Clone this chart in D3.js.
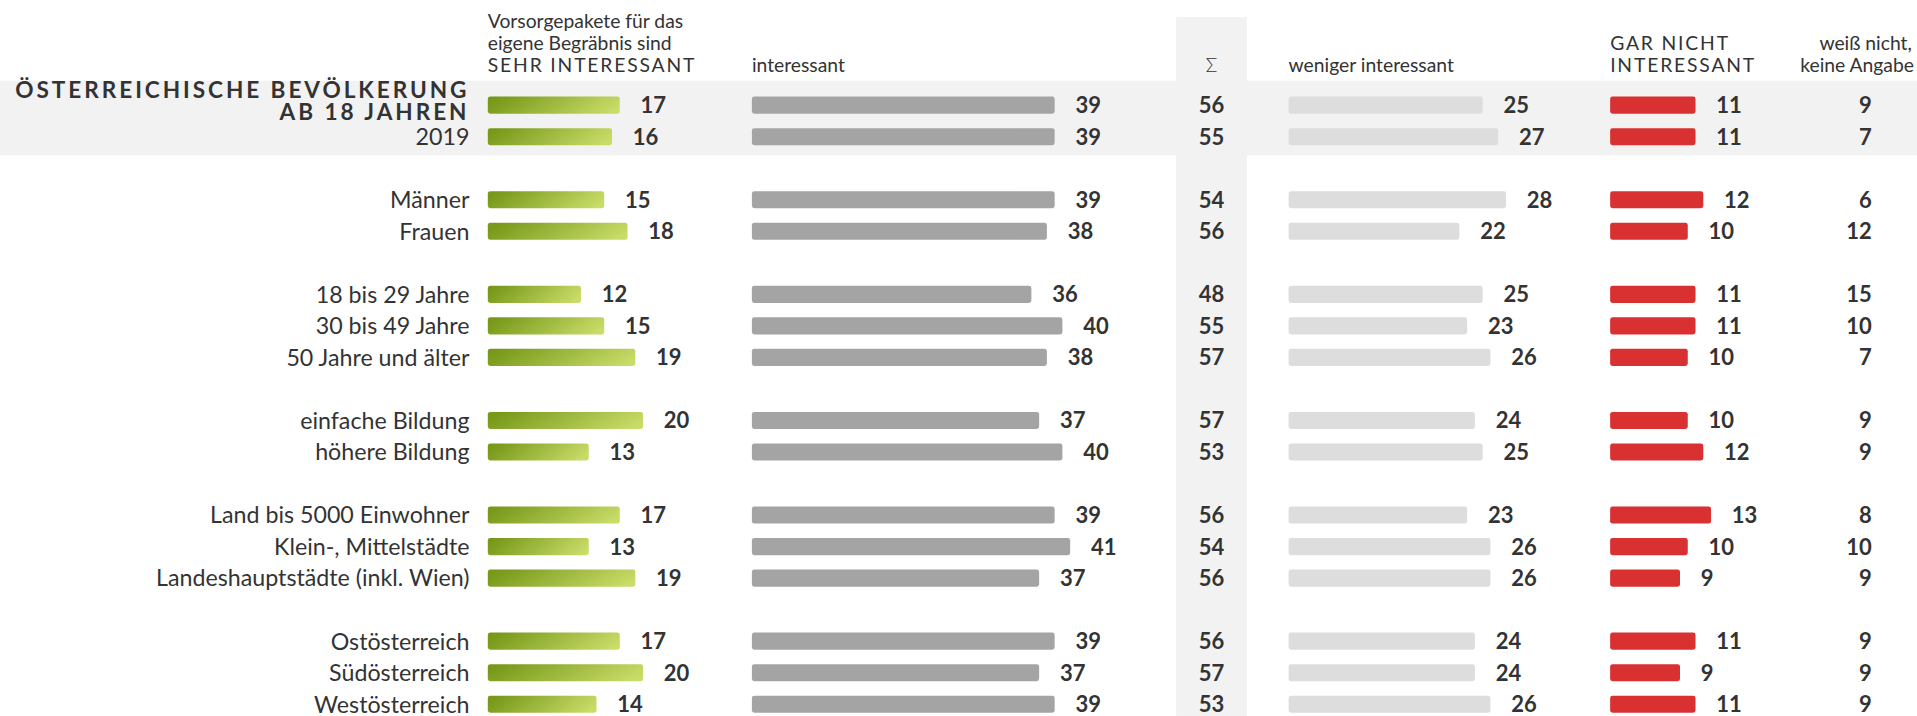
<!DOCTYPE html>
<html>
<head>
<meta charset="utf-8">
<script src="https://cdn.jsdelivr.net/npm/d3@7"></script>
<style>
  body { margin: 0; background: #fff; }
  svg { display: block; font-family: Lato, "Open Sans", sans-serif; }
</style>
</head>
<body>
<svg id="chart"></svg>
<script>
// Rows, top to bottom
var categories = ["ÖSTERREICHISCHE BEVÖLKERUNG|AB 18 JAHREN", "2019",
    "Männer", "Frauen",
    "18 bis 29 Jahre", "30 bis 49 Jahre", "50 Jahre und älter",
    "einfache Bildung", "höhere Bildung",
    "Land bis 5000 Einwohner", "Klein-, Mittelstädte", "Landeshauptstädte (inkl. Wien)",
    "Ostösterreich", "Südösterreich", "Westösterreich"];
var groups = [0, 0, 1, 1, 2, 2, 2, 3, 3, 4, 4, 4, 5, 5, 5];

var sehrInteressant  = [17, 16, 15, 18, 12, 15, 19, 20, 13, 17, 13, 19, 17, 20, 14];
var interessant      = [39, 39, 39, 38, 36, 40, 38, 37, 40, 39, 41, 37, 39, 37, 39];
var summe            = [56, 55, 54, 56, 48, 55, 57, 57, 53, 56, 54, 56, 56, 57, 53];
var wenigerInt       = [25, 27, 28, 22, 25, 23, 26, 24, 25, 23, 26, 26, 24, 24, 26];
var garNicht         = [11, 11, 12, 10, 11, 11, 10, 10, 12, 13, 10, 9, 11, 9, 11];
var weissNicht       = [9, 7, 6, 12, 15, 10, 7, 9, 9, 8, 10, 9, 9, 9, 9];

var W = 1568, H = 585.6;
var svg = d3.select("#chart")
    .attr("width", 1917).attr("height", 716)
    .attr("viewBox", "0 0 " + W + " " + H);

var defs = svg.append("defs");
var grad = defs.append("linearGradient").attr("id", "greenGrad")
    .attr("x1", "0%").attr("y1", "40%").attr("x2", "100%").attr("y2", "60%");
grad.append("stop").attr("offset", "0%").attr("stop-color", "#779819");
grad.append("stop").attr("offset", "100%").attr("stop-color", "#c8dc68");

var slots = categories.map(function (d, i) { return i + groups[i]; });
var y = d3.scalePoint()
    .domain(d3.range(20))
    .range([86, 576]);
var x = d3.scaleLinear().domain([0, 1]).range([0, 6.35]);   // px per percent
var barH = 14;

// background bands
svg.append("rect").attr("x", 962).attr("y", 14).attr("width", 58).attr("height", H - 14).attr("fill", "#f2f2f2");
svg.append("rect").attr("x", 0).attr("y", 66).attr("width", W).attr("height", 61).attr("fill", "#f2f2f2");

var textCol = "#333";

// header
var hdr = svg.append("g").attr("fill", textCol).attr("font-size", 15.8);
hdr.append("text").attr("x", 399).attr("y", 23).text("Vorsorgepakete für das");
hdr.append("text").attr("x", 399).attr("y", 41).text("eigene Begräbnis sind");
hdr.append("text").attr("x", 399).attr("y", 59).attr("letter-spacing", 1.5).text("SEHR INTERESSANT");
hdr.append("text").attr("x", 615).attr("y", 59).text("interessant");
hdr.append("text").attr("x", 991).attr("y", 59).attr("text-anchor", "middle").attr("font-weight", 300).text("Σ");
hdr.append("text").attr("x", 1054).attr("y", 59).text("weniger interessant");
hdr.append("text").attr("x", 1317).attr("y", 41).attr("letter-spacing", 1.5).text("GAR NICHT");
hdr.append("text").attr("x", 1317).attr("y", 59).attr("letter-spacing", 1.5).text("INTERESSANT");
hdr.append("text").attr("x", 1526).attr("y", 41).attr("text-anchor", "middle").text("weiß nicht,");
hdr.append("text").attr("x", 1519).attr("y", 59).attr("text-anchor", "middle").text("keine Angabe");

// row labels
var rows = svg.append("g").selectAll("g.row")
    .data(categories)
    .enter().append("g").attr("class", "row")
    .attr("transform", function (d, i) { return "translate(0," + y(slots[i]) + ")"; });

rows.each(function (d, i) {
    var g = d3.select(this);
    var parts = d.split("|");
    if (parts.length > 1) {
        var t = g.append("text").attr("text-anchor", "end")
            .attr("font-size", 18.5).attr("font-weight", "bold").attr("letter-spacing", 2.4)
            .attr("fill", textCol);
        t.append("tspan").attr("x", 384).attr("y", -5.5).text(parts[0]);
        t.append("tspan").attr("x", 384).attr("y", 12).text(parts[1]);
    } else {
        g.append("text").attr("x", 384).attr("y", 6.8).attr("text-anchor", "end")
            .attr("font-size", 19).attr("fill", textCol).text(d);
    }
});

function barSeries(values, x0, fill) {
    var g = svg.append("g");
    g.selectAll("rect").data(values).enter().append("rect")
        .attr("x", x0)
        .attr("y", function (d, i) { return y(slots[i]) - barH / 2; })
        .attr("width", function (d) { return x(d); })
        .attr("height", barH)
        .attr("rx", 2)
        .attr("fill", fill);
    g.selectAll("text").data(values).enter().append("text")
        .attr("x", function (d) { return x0 + x(d) + 17; })
        .attr("y", function (d, i) { return y(slots[i]) + 6.5; })
        .attr("font-size", 18).attr("font-weight", "bold").attr("fill", textCol)
        .text(function (d) { return d; });
}

barSeries(sehrInteressant, 399, "url(#greenGrad)");
barSeries(interessant, 615, "#a4a4a4");
barSeries(wenigerInt, 1054, "#dddddd");
barSeries(garNicht, 1317, "#d93131");

function valueColumn(values, xPos, anchor) {
    svg.append("g").selectAll("text").data(values).enter().append("text")
        .attr("x", xPos)
        .attr("y", function (d, i) { return y(slots[i]) + 6.5; })
        .attr("text-anchor", anchor)
        .attr("font-size", 18).attr("font-weight", "bold").attr("fill", textCol)
        .text(function (d) { return d; });
}
valueColumn(summe, 991, "middle");
valueColumn(weissNicht, 1531, "end");
</script>
</body>
</html>
